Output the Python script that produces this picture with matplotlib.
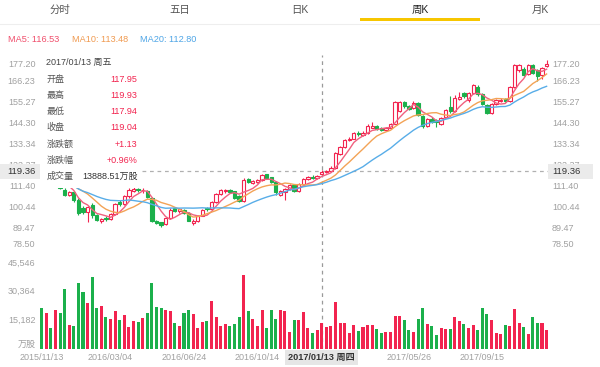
import matplotlib
matplotlib.use("Agg")
import matplotlib.pyplot as plt
import matplotlib.transforms as mtrans
from matplotlib.patches import Rectangle
import numpy as np
import pandas as pd

plt.rcParams['font.family'] = ['Liberation Sans', 'Noto Sans CJK SC', 'DejaVu Sans']

# ---------------- data ----------------
opens = [
    118.0, 115.5, 116.5, 115.0, 116.0, 109.7, 106.9, 108.4, 104.5, 100.1,
    97.9, 101.5, 96.3, 93.3, 95.1, 94.5, 96.8, 103.1, 102.1, 106.1,
    109.0, 109.9, 109.3, 109.0, 105.5, 93.5, 92.5, 91.7, 95.1, 100.1,
    98.5, 99.1, 97.5, 92.3, 93.5, 96.1, 100.0, 99.3, 103.1, 107.5,
    108.7, 109.4, 108.8, 106.2, 103.8, 115.3, 113.0, 113.6, 114.8, 117.6,
    116.0, 113.6, 106.8, 108.6, 109.8, 112.2, 108.8, 112.4, 115.0, 116.4,
    115.6, 117.95, 119.0, 119.5, 120.8, 128.5, 132.0, 135.4, 136.3, 139.4,
    138.4, 139.3, 142.0, 142.8, 141.8, 140.8, 141.6, 144.1, 150.9, 155.2,
    153.1, 152.1, 154.7, 147.9, 143.0, 146.6, 145.8, 144.0, 147.5, 152.7,
    150.7, 157.1, 160.1, 156.4, 160.3, 163.5, 159.6, 153.8, 149.6, 154.4,
    155.8, 156.8, 156.0, 163.2, 172.1, 172.9, 170.1, 174.5, 171.9, 169.3,
    174.1]
highs = [
    119.0, 117.5, 117.1, 117.0, 116.4, 110.7, 109.0, 108.8, 105.3, 100.9,
    101.3, 102.5, 97.1, 95.1, 95.9, 97.3, 102.9, 104.1, 106.7, 110.3,
    111.5, 110.5, 110.3, 109.5, 105.9, 94.0, 93.0, 95.5, 100.1, 100.7,
    100.0, 99.7, 98.0, 94.1, 96.5, 99.5, 100.5, 103.7, 108.1, 110.1,
    110.0, 109.9, 109.2, 106.8, 115.5, 115.8, 114.8, 115.2, 118.0, 118.0,
    116.5, 114.0, 109.6, 110.5, 112.6, 112.8, 112.9, 115.5, 116.6, 117.2,
    117.5, 119.93, 120.0, 121.8, 129.5, 132.7, 136.3, 137.1, 139.9, 140.5,
    140.3, 144.0, 145.2, 143.3, 142.5, 142.3, 144.5, 155.7, 156.1, 155.9,
    153.9, 155.7, 155.3, 148.4, 147.0, 147.4, 146.4, 147.6, 151.7, 158.7,
    159.1, 160.8, 160.8, 160.6, 164.8, 164.2, 160.3, 154.6, 155.0, 157.2,
    157.3, 157.4, 163.7, 175.2, 175.5, 173.5, 175.2, 175.2, 172.5, 173.7,
    177.2]
lows = [
    114.7, 114.5, 114.1, 114.4, 110.0, 106.3, 106.3, 103.3, 96.5, 97.1,
    93.0, 94.9, 93.3, 92.0, 93.1, 93.9, 96.3, 101.3, 101.5, 105.5,
    108.3, 108.5, 108.1, 105.5, 92.8, 91.5, 90.2, 91.0, 94.5, 98.0,
    97.7, 97.1, 93.1, 91.4, 93.0, 95.8, 98.7, 98.9, 102.7, 107.0,
    108.1, 108.1, 105.0, 103.0, 103.3, 113.0, 112.4, 113.0, 114.4, 115.4,
    113.2, 106.8, 106.2, 104.2, 109.4, 108.3, 108.4, 112.0, 114.6, 115.2,
    115.2, 117.94, 118.5, 119.1, 120.3, 127.8, 131.5, 134.9, 135.9, 137.9,
    137.7, 138.9, 141.6, 140.8, 140.2, 140.3, 141.2, 143.7, 150.3, 152.5,
    151.3, 151.7, 148.1, 141.9, 142.6, 144.6, 142.5, 143.4, 147.0, 149.9,
    150.1, 156.5, 157.6, 155.6, 159.8, 158.8, 153.6, 149.0, 149.0, 153.8,
    155.2, 155.2, 155.6, 162.5, 171.3, 168.9, 169.5, 169.9, 166.2, 167.2,
    173.7]
closes = [
    115.5, 116.7, 115.0, 116.3, 110.5, 106.9, 108.4, 104.0, 97.3, 97.9,
    100.7, 96.3, 93.9, 94.4, 94.5, 96.8, 102.3, 102.1, 106.3, 109.5,
    110.0, 109.3, 109.7, 106.0, 93.5, 92.3, 91.0, 95.1, 99.0, 98.7,
    99.3, 97.5, 93.5, 93.5, 96.1, 99.0, 99.3, 103.1, 107.5, 109.5,
    109.4, 108.5, 105.5, 103.6, 114.8, 113.6, 114.0, 114.6, 117.2, 115.8,
    113.8, 108.3, 109.0, 110.0, 112.0, 108.8, 112.35, 115.0, 116.0, 115.6,
    117.0, 119.04, 119.6, 121.0, 128.7, 131.9, 135.6, 136.1, 139.1, 138.5,
    139.4, 142.8, 143.0, 141.3, 140.8, 141.6, 144.0, 155.2, 155.4, 153.1,
    151.9, 155.1, 148.5, 142.8, 146.5, 145.2, 144.8, 147.2, 151.1, 150.5,
    157.5, 158.2, 158.3, 160.0, 164.1, 159.4, 154.3, 149.8, 154.3, 156.6,
    156.7, 155.8, 163.2, 174.5, 174.6, 169.7, 174.6, 170.7, 168.9, 173.2,
    175.3]
volumes = [
    21500, 18900, 10950, 20600, 18900, 31600, 12700, 12100, 34750, 30300,
    24200, 37900, 21500, 22900, 16800, 15700, 19950, 15400, 18000, 11650,
    14800, 14500, 16300, 18900, 34750, 22400, 21500, 20900, 20200, 14000,
    12300, 19200, 20600, 18500, 11000, 14200, 14600, 25550, 16700, 12100,
    13100, 12100, 13300, 16800, 39100, 20300, 15700, 12100, 20900, 11300,
    20900, 15700, 20600, 20200, 9150, 15400, 15400, 19400, 11300, 8300,
    10050, 13888.51, 11450, 12150, 24700, 13600, 13600, 8650, 12500, 9700,
    11800, 12700, 12500, 10400, 8650, 8800, 9000, 17450, 17300, 15500,
    10050, 8800, 15850, 21850, 13200, 12300, 7600, 10900, 10400, 10400,
    17100, 15000, 13200, 11100, 12500, 10050, 21850, 18500, 15350, 8650,
    7950, 12500, 12150, 21350, 13900, 11450, 7950, 16750, 13600, 13900,
    10050]

price_ticks = [177.20, 166.23, 155.27, 144.30, 133.34, 122.37, 111.40, 100.44, 89.47, 78.50]
price_tick_labels = ['177.20', '166.23', '155.27', '144.30', '133.34', '122.37',
                     '111.40', '100.44', '89.47', '78.50']
vol_ticks = [45546, 30364, 15182, 0]
vol_tick_labels = ['45,546', '30,364', '15,182', '万股']
date_idx = [0, 15, 31, 47, 80, 96]
date_labels = ['2015/11/13', '2016/03/04', '2016/06/24', '2016/10/14', '2017/05/26', '2017/09/15']

tabs = ['分时', '五日', '日K', '周K', '月K']
active_tab = 3
legend_labels = ['MA5: 116.53', 'MA10: 113.48', 'MA20: 112.80']
ma_windows = [5, 10, 20]

cross_idx = 61
cross_price = 119.36
cross_price_label = '119.36'
cross_date_label = '2017/01/13 周四'
tip_title = '2017/01/13 周五'
tip_names = ['开盘', '最高', '最低', '收盘', '涨跌额', '涨跌幅', '成交量']
tip_values = ['117.95', '119.93', '117.94', '119.04', '+1.13', '+0.96%', '13888.51万股']

# ---------------- style ----------------
UP = '#f2244f'
DOWN = '#1bb04b'
MA_COLORS = ['#f0617f', '#f3a356', '#58ade8']
LEGEND_COLORS = ['#f04f6c', '#f09a50', '#4ea5e6']
AXIS_TXT = '#a0a0a0'
DARK = '#333333'

W, H = 600, 367
fig = plt.figure(figsize=(6, 3.67), dpi=100)
fig.patch.set_facecolor('white')

def fx(px):
    return px / W

def fy(py):
    return 1 - py / H

# pixel layout of plotting regions
X0, STEP = 41.7, 4.59
P_TOP, P_BOT = 50, 252
V_TOP, V_BOT = 252, 349
xlim = ((0 - X0) / STEP, (W - X0) / STEP)

ax_p = fig.add_axes([0, fy(P_BOT), 1, (P_BOT - P_TOP) / H])
ax_v = fig.add_axes([0, fy(V_BOT), 1, (V_BOT - V_TOP) / H])
for ax in (ax_p, ax_v):
    ax.set_xlim(*xlim)
    ax.axis('off')
    ax.patch.set_alpha(0)

# price scale: 144.30 at y=123.3 px, 1.915 px per unit
ppu = 1.915
ax_p.set_ylim(144.30 - (P_BOT - 123.3) / ppu, 144.30 + (123.3 - P_TOP) / ppu)
# volume scale: 45,546 spans 86 px
ax_v.set_ylim(0, 45546 * (V_BOT - V_TOP) / 86.0)

o = np.array(opens); h = np.array(highs); l = np.array(lows); c = np.array(closes)
v = np.array(volumes)
idx = np.arange(len(c))
up = c >= o
edge = np.where(up, UP, DOWN)
face = np.where(up, 'white', DOWN)

# crosshair (behind)
ax_p.axvline(cross_idx, ymin=0, ymax=(P_BOT - 55) / (P_BOT - P_TOP), color='#9a9a9a',
             lw=0.9, ls=(0, (3, 3)), zorder=1)
ax_v.axvline(cross_idx, color='#9a9a9a', lw=0.9, ls=(0, (3, 3)), zorder=1)
ax_p.axhline(cross_price, xmin=142 / W, xmax=548 / W, color='#b0b0b0', lw=0.9,
             ls=(0, (3, 3)), zorder=1)

# MA lines
cs = pd.Series(c)
for w, col in zip(ma_windows, MA_COLORS):
    ma = cs.rolling(w, min_periods=1).mean()
    ax_p.plot(idx, ma, color=col, lw=1.0, zorder=4)

# candles
ax_p.vlines(idx, l, h, colors=edge, lw=0.8, zorder=2)
body = np.maximum(np.abs(c - o), 0.25)
ax_p.bar(idx, body, bottom=np.minimum(o, c), width=0.72, color=face,
         edgecolor=edge, linewidth=0.8, zorder=3)

# volume bars
ax_v.bar(idx, v, width=0.66, color=np.where(up, UP, DOWN), linewidth=0, zorder=2)

# axis labels (price)
ytr_p = ax_p.get_yaxis_transform()
for val, lab in zip(price_ticks, price_tick_labels):
    va = 'top' if val == price_ticks[0] else ('bottom' if val == price_ticks[-1] else 'center')
    ax_p.text(35.5 / W, val, lab, transform=ytr_p, ha='right', va=va, fontsize=6.5,
              color=AXIS_TXT, zorder=5)
    ax_p.text(552 / W, val, lab, transform=ytr_p, ha='left', va=va, fontsize=6.5,
              color=AXIS_TXT, zorder=5)

# volume labels
ytr_v = ax_v.get_yaxis_transform()
for val, lab in zip(vol_ticks, vol_tick_labels):
    va = 'bottom' if val == 0 else 'center'
    ax_v.text(35.5 / W, val, lab, transform=ytr_v, ha='right', va=va, fontsize=6.5,
              color=AXIS_TXT, zorder=5)

# crosshair price boxes
box_half = 7.5 / ppu
ax_p.add_patch(Rectangle((0, cross_price - box_half), 42 / W, 2 * box_half,
                         transform=ytr_p, facecolor='#ebebeb', edgecolor='none',
                         zorder=6, clip_on=False))
ax_p.text(35.5 / W, cross_price, cross_price_label, transform=ytr_p, ha='right',
          va='center', fontsize=6.8, color=DARK, zorder=7)
ax_p.add_patch(Rectangle((548 / W, cross_price - box_half), 45 / W, 2 * box_half,
                         transform=ytr_p, facecolor='#ebebeb', edgecolor='none',
                         zorder=6, clip_on=False))
ax_p.text(552 / W, cross_price, cross_price_label, transform=ytr_p, ha='left',
          va='center', fontsize=6.8, color=DARK, zorder=7)

# date labels
dtr = mtrans.blended_transform_factory(ax_v.transData, fig.transFigure)
for i, lab in zip(date_idx, date_labels):
    fig.text(i, fy(357), lab, transform=dtr, ha='center', va='center',
             fontsize=6.5, color=AXIS_TXT)
fig.add_artist(Rectangle((cross_idx - 36.5 / STEP, fy(365)), 73 / STEP, 15 / H,
                         transform=dtr, facecolor='#e6e6e6', edgecolor='none', zorder=2))
fig.text(cross_idx, fy(357.5), cross_date_label, transform=dtr, ha='center',
         va='center', fontsize=6.6, color=DARK, fontweight='bold', zorder=3)

# tooltip panel
fig.add_artist(Rectangle((fx(40), fy(188)), (142 - 40) / W, (188 - 54) / H,
                         transform=fig.transFigure, facecolor='white',
                         edgecolor='none', zorder=1))
fig.text(fx(46.5), fy(62.7), tip_title, ha='left', va='center', fontsize=6.5,
         color='#444444', zorder=3)
row_y = [79.3, 95.5, 111.7, 127.9, 144.1, 160.3, 176.5]
for yy, name, val in zip(row_y, tip_names, tip_values):
    fig.text(fx(46.5), fy(yy), name, ha='left', va='center', fontsize=6.5,
             color='#555555', zorder=3)
    col = DARK if '万' in val else UP
    fig.text(fx(137.5), fy(yy), val, ha='right', va='center', fontsize=6.5,
             color=col, zorder=3)

# legend
leg_x = [8, 72, 139.5]
for xx, lab, col in zip(leg_x, legend_labels, LEGEND_COLORS):
    fig.text(fx(xx), fy(39), lab, ha='left', va='center', fontsize=6.6, color=col)

# tabs
for k, t in enumerate(tabs):
    cx = (k + 0.5) * W / len(tabs)
    fig.text(fx(cx), fy(10), t, ha='center', va='center', fontsize=7.5,
             color='#222222' if k == active_tab else '#555555')
fig.add_artist(plt.Line2D([0, 1], [fy(23.5), fy(23.5)], transform=fig.transFigure,
                          color='#eeeeee', lw=0.8))
fig.add_artist(Rectangle((fx(active_tab * W / len(tabs)), fy(21)), (W / len(tabs)) / W,
                         2.5 / H, transform=fig.transFigure, facecolor='#f7c600',
                         edgecolor='none'))

fig.savefig('out.png', dpi=100, facecolor='white')
